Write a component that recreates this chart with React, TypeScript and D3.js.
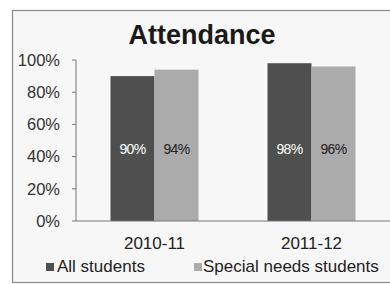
import React from "react";
import * as d3 from "d3";

const categories = ["2010-11", "2011-12"];
const seriesNames = ["All students", "Special needs students"];
const allStudents = [90, 98];
const specialNeeds = [94, 96];
const yTicks = [0, 20, 40, 60, 80, 100];
const colors = ["#4f4f4f", "#ababab"];
const labelColors = ["#ffffff", "#222222"];

export default function App() {
  const W = 390, H = 284;
  const left = 76, right = 390, top = 60, bottom = 221;
  const x = d3.scaleBand().domain(categories).range([left, right]).paddingInner(0).paddingOuter(0);
  const bw = 44;
  const y = d3.scaleLinear().domain([0, 100]).range([bottom, top]);
  const series = [allStudents, specialNeeds];
  const font = "'Liberation Sans', Arial, sans-serif";
  return (
    <svg width={W} height={H} style={{ position: "absolute", left: 0, top: 0, background: "#fff" }} fontFamily={font}>
      <rect x={12.5} y={10.5} width={400} height={272} fill="#f7f7f7" stroke="#8a8a8a" strokeWidth={1.2} />
      <text x={202} y={44} textAnchor="middle" fontSize={27} fontWeight="bold" fill="#1a1a1a">Attendance</text>
      {yTicks.map((t) => (
        <g key={t}>
          <text x={60} y={y(t)} dy="0.35em" textAnchor="end" fontSize={16.5} fill="#333">{t}%</text>
          <line x1={72} x2={left} y1={y(t)} y2={y(t)} stroke="#777" />
        </g>
      ))}
      <line x1={left} x2={left} y1={top} y2={bottom} stroke="#777" />
      {categories.map((c, i) => {
        const cx = (x(c) as number) + x.bandwidth() / 2;
        return (
          <g key={c}>
            {series.map((s, j) => {
              const bx = cx - bw + j * bw;
              return (
                <g key={j}>
                  <rect x={bx} y={y(s[i])} width={bw} height={bottom - y(s[i])} fill={colors[j]} />
                  <text x={bx + bw / 2} y={149} dy="0.35em" textAnchor="middle" fontSize={14} fill={labelColors[j]} letterSpacing={-0.6}>{s[i]}%</text>
                </g>
              );
            })}
            <text x={cx} y={249} textAnchor="middle" fontSize={17} fill="#222">{c}</text>
          </g>
        );
      })}
      <line x1={left} x2={right} y1={bottom} y2={bottom} stroke="#777" />
      <rect x={46} y={263} width={8} height={8} fill={colors[0]} />
      <text x={57} y={272} fontSize={17} fill="#222">{seriesNames[0]}</text>
      <rect x={194} y={263} width={8} height={8} fill={colors[1]} />
      <text x={203} y={272} fontSize={17} fill="#222">{seriesNames[1]}</text>
    </svg>
  );
}
